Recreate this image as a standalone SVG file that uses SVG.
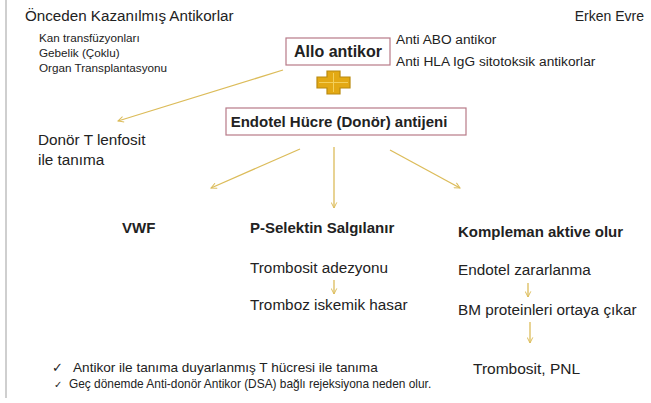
<svg xmlns="http://www.w3.org/2000/svg" width="651" height="403" viewBox="0 0 651 403">
<defs>
<style>
text{font-family:"Liberation Sans",Arial,sans-serif;fill:#222}
.t{font-size:15.3px}
.s{font-size:11.7px}
.b{font-weight:bold;font-size:15px}
.box{fill:#fff;stroke:#b77a88;stroke-width:1.2}
.arr{stroke:#dcbc5a;stroke-width:1.3;fill:none;marker-end:url(#ah)}
.ck{font-family:"DejaVu Sans",sans-serif}
</style>
<marker id="ah" viewBox="0 0 10 10" refX="9" refY="5" markerWidth="7" markerHeight="7" orient="auto" markerUnits="userSpaceOnUse">
<path d="M1,1 L9,5 L1,9" fill="none" stroke="#dcbc5a" stroke-width="1.4"/>
</marker>
</defs>
<rect width="651" height="403" fill="#fff"/>
<line x1="6" y1="0" x2="6" y2="398" stroke="#cfcfcf" stroke-width="2"/>

<g id="title"><text x="25" y="21" style="font-size:15.2px">Önceden Kazanılmış Antikorlar</text></g>
<g id="evre"><text x="644" y="21" text-anchor="end" style="font-size:14px">Erken Evre</text></g>
<g id="sources">
<text x="39" y="42" class="s">Kan transfüzyonları</text>
<text x="39" y="57" class="s">Gebelik (Çoklu)</text>
<text x="39" y="72" class="s">Organ Transplantasyonu</text>
</g>
<g id="allo">
<rect x="286" y="38" width="104" height="27" class="box"/>
<text x="338" y="57" text-anchor="middle" class="b" style="font-size:16px">Allo antikor</text>
</g>
<g id="allo-types">
<text x="396" y="44" style="font-size:13.7px">Anti ABO antikor</text>
<text x="396" y="66" style="font-size:13.7px">Anti HLA IgG sitotoksik antikorlar</text>
</g>
<g id="plus">
<path d="M327,71 h13 v6 h10 v11 h-10 v6 h-13 v-6 h-10 v-11 h10 z" fill="#e3a914" stroke="#b98a10" stroke-width="1.2"/>
<path d="M333.5,73 v19 M319,82.5 h29" stroke="#f3cf5a" stroke-width="1"/>
</g>
<g id="endotel">
<rect x="226" y="108" width="240" height="27" class="box"/>
<text x="339" y="127" text-anchor="middle" class="b">Endotel Hücre (Donör) antijeni</text>
</g>
<g id="donor"><text x="38" y="145" class="t">Donör T lenfosit</text><text x="38" y="165" class="t">ile tanıma</text></g>
<g id="vwf"><text x="122" y="233" class="b">VWF</text></g>
<g id="pselektin"><text x="250" y="233" class="b">P-Selektin Salgılanır</text></g>
<g id="kompleman"><text x="458" y="237" class="b">Kompleman aktive olur</text></g>
<g id="adezyon"><text x="250" y="273" class="t">Trombosit adezyonu</text></g>
<g id="tromboz"><text x="250" y="310" class="t">Tromboz iskemik hasar</text></g>
<g id="zarar"><text x="458" y="275" class="t">Endotel zararlanma</text></g>
<g id="bm"><text x="458" y="315" class="t">BM proteinleri ortaya çıkar</text></g>
<g id="pnl"><text x="473" y="374" style="font-size:15.5px">Trombosit, PNL</text></g>
<g id="notes">
<text x="52" y="372" class="ck" style="font-size:13px">✓</text>
<text x="73" y="372" style="font-size:13.6px">Antikor ile tanıma duyarlanmış  T hücresi ile tanıma</text>
<text x="54" y="388" class="ck" style="font-size:10px">✓</text>
<text x="69" y="388" style="font-size:11.9px">Geç dönemde Anti-donör Antikor (DSA) bağlı rejeksiyona neden olur.</text>
</g>
<g id="connectors">
<line x1="283" y1="70" x2="118" y2="121" class="arr"/>
<line x1="300" y1="149" x2="211" y2="188" class="arr"/>
<line x1="334" y1="147" x2="334" y2="208" class="arr"/>
<line x1="390" y1="150" x2="460" y2="188" class="arr"/>
<line x1="334" y1="280" x2="334" y2="294" class="arr"/>
<line x1="528" y1="283" x2="528" y2="297" class="arr"/>
<line x1="530" y1="322" x2="530" y2="343" class="arr"/>
</g>
</svg>
